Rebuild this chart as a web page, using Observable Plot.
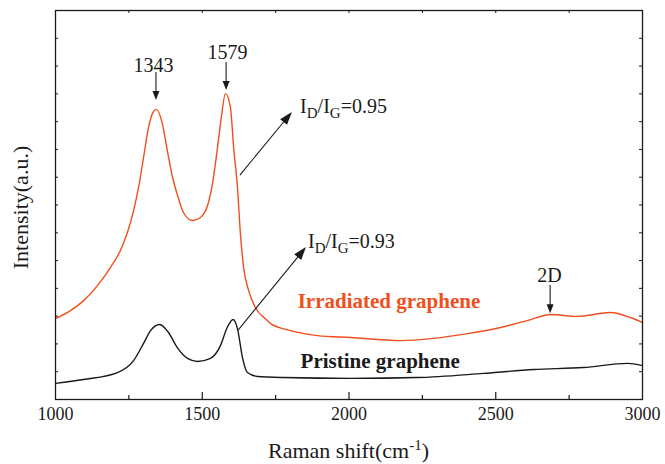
<!DOCTYPE html>
<html>
<head>
<meta charset="utf-8">
<script src="https://cdn.jsdelivr.net/npm/d3@7"></script>
<script src="https://cdn.jsdelivr.net/npm/@observablehq/plot@0.6"></script>
<style>
  html, body { margin: 0; padding: 0; background: #fff; }
  svg { display: block; }
</style>
</head>
<body>
<div id="chart"></div>
<script>
// ---- Data ----
const irrShift = [1000,1051,1095,1143,1187,1221,1245,1266,1283,1300,1317,1330,1344,1364,1381,1399,1416,1436,1467,1494,1518,1535,1552,1565,1579,1596,1607,1620,1630,1641,1658,1681,1722,1733,1801,1893,2005,2175,2288,2404,2516,2608,2687,2778,2891,2959,3000];
const irrIntensity = [2.91,3.20,3.55,4.10,4.75,5.36,6.01,6.80,7.63,8.71,9.79,10.29,10.44,9.93,8.96,7.99,7.34,6.73,6.44,6.55,6.98,7.77,9.07,10.15,11.01,10.51,9.07,7.63,5.97,4.75,3.92,3.31,2.84,2.73,2.48,2.30,2.23,2.12,2.20,2.37,2.59,2.84,3.06,2.99,3.13,2.95,2.77];

const priShift = [1000,1095,1211,1266,1300,1324,1355,1385,1415,1450,1484,1528,1562,1585,1605,1620,1637,1654,1688,1777,2005,2233,2458,2629,2799,2949,3000];
const priIntensity = [0.58,0.72,0.97,1.40,2.02,2.48,2.70,2.41,1.87,1.48,1.37,1.48,1.94,2.59,2.88,2.55,1.51,0.97,0.83,0.79,0.76,0.79,0.94,1.08,1.15,1.30,1.22];

const xTicks = [1000,1500,2000,2500,3000];
const xMinorTicks = [1250,1750,2250,2750];
const xTopTicks = [1250,1500,1750,2000,2250,2500,2750];
const yTicks = [1,2,3,4,5,6,7,8,9,10,11,12,13];

// peak labels (text, x, y)
const peakLabels = ["1343","1579","2D"];
const peakLabelX = [1334,1586,2683];
const peakLabelY = [12.02,12.49,4.46];
// short vertical arrows to peaks
const peakArrowX = [1344,1583,2687];
const peakArrowY1 = [11.77,12.13,4.10];
const peakArrowY2 = [10.76,11.12,3.09];

// ratio annotations
const ratioValues = ["0.95","0.93"];
const ratioX = [1835,1862];
const ratioY = [10.29,5.43];
const ratioArrowX1 = [1630,1624];
const ratioArrowY1 = [8.06,2.48];
const ratioArrowX2 = [1807,1855];
const ratioArrowY2 = [10.33,5.47];

// series labels
const seriesNames = ["Irradiated graphene","Pristine graphene"];
const seriesLabelX = [1825,1835];
const seriesLabelY = [3.31,1.12];

const yTitle = "Intensity(a.u.)";

const ORANGE = "#f04f1d";
const INK = "#1a1a1a";
const FONT = "'Liberation Serif', 'Times New Roman', serif";

const irr = irrShift.map((x,i)=>({x, y: irrIntensity[i]}));
const pri = priShift.map((x,i)=>({x, y: priIntensity[i]}));

const W = 665, H = 464, mL = 55, mR = 23, mT = 10, mB = 65;
const xDom = [1000,3000], yDom = [0,14];
const pxX = (xDom[1]-xDom[0])/(W-mL-mR);   // data units per px
const pxY = (yDom[1]-yDom[0])/(H-mT-mB);

function arrowHead(g, x1, y1, x2, y2, L, Wd) {
  const a = Math.atan2(y2-y1, x2-x1), c = Math.cos(a), s = Math.sin(a);
  const bx = x2 - L*c, by = y2 - L*s;
  g.append("line").attr("x1",x1).attr("y1",y1).attr("x2",bx+1*c).attr("y2",by+1*s)
    .attr("stroke",INK).attr("stroke-width",1.1);
  g.append("path").attr("d",`M${x2},${y2}L${bx - Wd*s},${by + Wd*c}L${bx + Wd*s},${by - Wd*c}Z`)
    .attr("fill",INK);
}

function annotations(index, scales, values, dim) {
  const x = scales.x, y = scales.y;
  const g = d3.create("svg:g").attr("font-family",FONT).attr("fill",INK);
  peakArrowX.forEach((px,i)=> arrowHead(g, x(px), y(peakArrowY1[i]), x(px), y(peakArrowY2[i]), 9, 3.5));
  ratioArrowX1.forEach((px,i)=> arrowHead(g, x(px), y(ratioArrowY1[i]), x(ratioArrowX2[i]), y(ratioArrowY2[i]), 13, 4.5));
  ratioValues.forEach((v,i)=>{
    const t = g.append("text").attr("x", x(ratioX[i])).attr("y", y(ratioY[i]))
      .attr("text-anchor","start").attr("font-size",20);
    t.append("tspan").text("I");
    t.append("tspan").attr("dy",5).attr("font-size",15).text("D");
    t.append("tspan").attr("dy",-5).text("/I");
    t.append("tspan").attr("dy",5).attr("font-size",15).text("G");
    t.append("tspan").attr("dy",-5).text("=" + v);
  });
  // x axis title with superscript
  const cx = dim.marginLeft + (dim.width - dim.marginLeft - dim.marginRight)/2;
  const t = g.append("text").attr("x", cx).attr("y", dim.height - 6).attr("text-anchor","middle").attr("font-size",22);
  t.append("tspan").text("Raman shift(cm");
  t.append("tspan").attr("dy",-8).attr("font-size",15).text("-1");
  t.append("tspan").attr("dy",8).text(")");
  // y axis title
  const cy = dim.marginTop + (dim.height - dim.marginTop - dim.marginBottom)/2 + 3;
  g.append("text").attr("transform", `translate(${dim.marginLeft - 27},${cy}) rotate(-90)`)
    .attr("text-anchor","middle").attr("font-size",22).text(yTitle);
  return g.node();
}

const chart = Plot.plot({
  width: W, height: H,
  marginLeft: mL, marginRight: mR, marginTop: mT, marginBottom: mB,
  style: {fontFamily: FONT, fontSize: "18px", color: INK, background: "#fff"},
  x: {domain: xDom, ticks: xTicks, tickSize: 0, tickPadding: 8, tickFormat: d => String(d), label: null},
  y: {domain: yDom, axis: null},
  marks: [
    Plot.line(irr, {x: "x", y: "y", stroke: ORANGE, strokeWidth: 1.4, curve: "monotone-x"}),
    Plot.line(pri, {x: "x", y: "y", stroke: INK, strokeWidth: 1.4, curve: "monotone-x"}),
    // inward ticks
    Plot.ruleX(xTicks.slice(1,-1), {y1: 0, y2: 7*pxY, stroke: INK, strokeWidth: 1.2}),
    Plot.ruleX(xMinorTicks, {y1: 0, y2: 4*pxY, stroke: INK, strokeWidth: 1.2}),
    Plot.ruleX(xTopTicks, {y1: 14 - 3*pxY, y2: 14, stroke: INK, strokeWidth: 1}),
    Plot.ruleY(yTicks, {x1: 1000, x2: 1000 + 3*pxX, stroke: INK, strokeWidth: 1}),
    Plot.ruleY(yTicks, {x1: 3000 - 3*pxX, x2: 3000, stroke: INK, strokeWidth: 1}),
    Plot.frame({stroke: INK, strokeWidth: 1.3}),
    Plot.text(peakLabels, {x: (d,i)=>peakLabelX[i], y: (d,i)=>peakLabelY[i], text: d=>d, fontSize: 20, fill: INK}),
    Plot.text(seriesNames, {x: (d,i)=>seriesLabelX[i], y: (d,i)=>seriesLabelY[i], text: d=>d, textAnchor: "start", lineAnchor: "bottom",
      fontSize: 21, fontWeight: "bold", fill: (d,i)=> i===0 ? ORANGE : INK}),
    annotations
  ]
});
document.getElementById("chart").appendChild(chart);
</script>
</body>
</html>
